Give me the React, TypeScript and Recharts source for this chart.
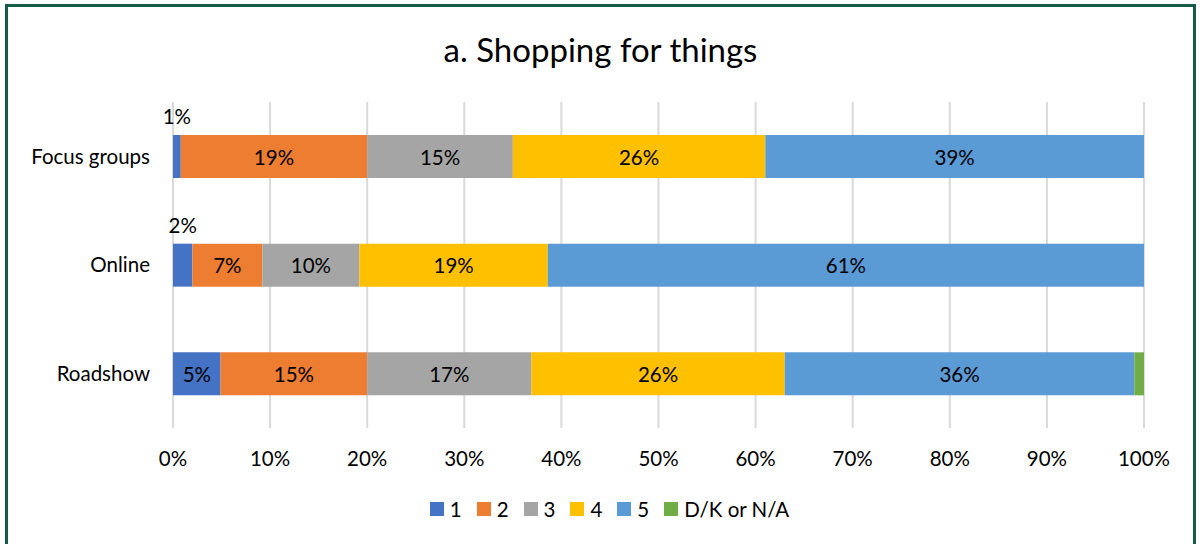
import React from "react";
import { BarChart, Bar, XAxis, YAxis, CartesianGrid, LabelList, Legend } from "recharts";

const categories = ["Focus groups", "Online", "Roadshow"];
const score1 = [0.8, 2.0, 4.9];
const score2 = [19.2, 7.2, 15.1];
const score3 = [15.0, 10.0, 16.9];
const score4 = [26.0, 19.4, 26.1];
const score5 = [39.0, 61.4, 36.0];
const dontKnow = [0, 0, 1.0];
const xTicks = [0, 10, 20, 30, 40, 50, 60, 70, 80, 90, 100];

const seriesNames = ["1", "2", "3", "4", "5", "D/K or N/A"];
const seriesColors = ["#4472C4", "#ED7D31", "#A5A5A5", "#FFC000", "#5B9BD5", "#70AD47"];

const data = categories.map((name, i) => ({
  name,
  s1: score1[i],
  s2: score2[i],
  s3: score3[i],
  s4: score4[i],
  s5: score5[i],
  dk: dontKnow[i],
}));
const keys = ["s1", "s2", "s3", "s4", "s5", "dk"];

const FONT = "Lato, 'Open Sans', sans-serif";
const FS = 20.5;

function SegmentLabel(props: any) {
  const { x, y, width, height, value } = props;
  if (!value) return null;
  const text = `${Math.round(value)}%`;
  if (width < 30) {
    return (
      <text x={x + width / 2} y={y - 11} textAnchor="middle" fontSize={FS} fontFamily={FONT} fill="#000">
        {text}
      </text>
    );
  }
  return (
    <text
      x={x + width / 2}
      y={y + height / 2}
      textAnchor="middle"
      dominantBaseline="central"
      fontSize={FS}
      fontFamily={FONT}
      fill="#000"
    >
      {text}
    </text>
  );
}

function LegendContent() {
  return (
    <div style={{ display: "flex", justifyContent: "center", alignItems: "center", fontFamily: FONT, fontSize: FS, color: "#000", paddingLeft: 18 }}>
      {seriesNames.map((n, i) => (
        <div key={n} style={{ display: "flex", alignItems: "center", marginRight: i < seriesNames.length - 1 ? 15 : 0 }}>
          <span style={{ width: 14, height: 14, background: seriesColors[i], display: "inline-block", marginRight: 6 }} />
          <span>{n}</span>
        </div>
      ))}
    </div>
  );
}

export default function App() {
  return (
    <div style={{ position: "absolute", left: 0, top: 0, width: 1201, height: 544, background: "#fff", overflow: "hidden" }}>
      <div
        style={{
          position: "absolute",
          left: 5,
          top: 4,
          width: 1191,
          height: 560,
          border: "3px solid #155B4A",
          boxSizing: "border-box",
        }}
      />
      <div
        style={{
          position: "absolute",
          left: 0,
          top: 29,
          width: 1201,
          textAlign: "center",
          fontFamily: FONT,
          fontSize: 33,
          color: "#000",
          lineHeight: "40px",
        }}
      >
        a. Shopping for things
      </div>
      <div style={{ position: "absolute", left: 0, top: 0 }}>
        <BarChart
          width={1201}
          height={544}
          data={data}
          layout="vertical"
          barSize={43}
          margin={{ top: 102, right: 57, bottom: 52, left: 0 }}
        >
          <CartesianGrid horizontal={false} stroke="#D9D9D9" strokeWidth={2} />
          <XAxis
            type="number"
            domain={[0, 100]}
            ticks={xTicks}
            tickFormatter={(v) => `${v}%`}
            axisLine={false}
            tickLine={false}
            tickSize={0}
            tickMargin={23}
            height={40}
            tick={{ fontSize: FS, fontFamily: FONT, fill: "#000" }}
          />
          <YAxis
            type="category"
            dataKey="name"
            width={173}
            axisLine={false}
            tickLine={false}
            tickSize={0}
            tickMargin={23}
            tick={{ fontSize: FS, fontFamily: FONT, fill: "#000" }}
          />
          <Legend
            verticalAlign="bottom"
            content={<LegendContent />}
            wrapperStyle={{ top: 497, bottom: "auto", left: 0, width: 1201 }}
          />
          {keys.map((k, i) => (
            <Bar key={k} dataKey={k} name={seriesNames[i]} stackId="a" fill={seriesColors[i]} isAnimationActive={false}>
              {k !== "dk" && <LabelList dataKey={k} content={<SegmentLabel />} />}
            </Bar>
          ))}
        </BarChart>
      </div>
    </div>
  );
}
